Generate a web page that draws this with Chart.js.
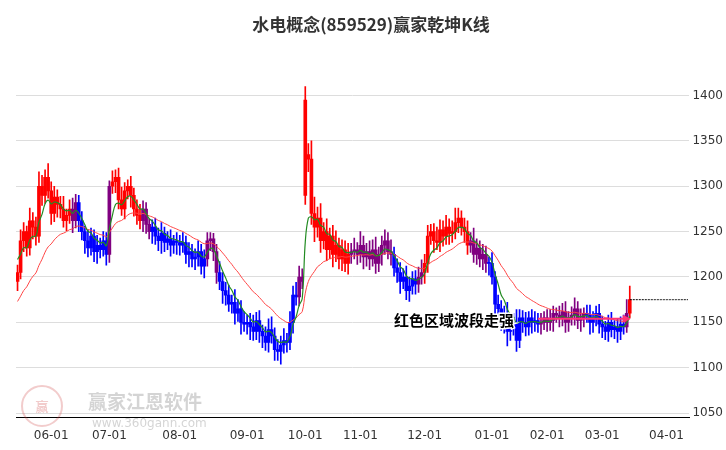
<!DOCTYPE html>
<html><head><meta charset="utf-8">
<script src="https://cdn.jsdelivr.net/npm/chart.js@4.4.1/dist/chart.umd.min.js"></script>
<style>
html,body{margin:0;padding:0;background:#fff;}
#wrap{width:726px;height:450px;position:relative;}
</style></head>
<body><div id="wrap"><canvas id="c" width="726" height="450"></canvas></div>
<script>
const title = '水电概念(859529)赢家乾坤K线';
const note = '红色区域波段走强';
// closes per trading day, 2024-05-17 .. 2025-03-14
const closes = [
  1205,1240,1250,1232,1262,1255,1245,1300,1290,1310,1295,
  1270,1288,1280,1275,1262,1268,1275,1262,1282,1262,1250,1240,1232,1245,1228,1235,1230,1240,1225,
  1300,1305,1310,1285,1275,1295,1300,1290,1275,1268,1262,1275,1258,1250,1255,1245,1240,1248,1238,1242,1235,1240,1238,
  1235,1238,1225,1228,1220,1222,1228,1212,1220,1240,1242,1228,1205,1195,1185,1180,1170,1172,1160,1165,1150,1148,
  1150,1145,1140,1152,1140,1135,1128,1142,1135,1120,1118,1125,1130,1128,1150,1180,1178,1200,1195,
  1395,1330,1270,1255,1265,1240,1250,1230,1245,1225,1235,1220,1230,1215,1225,1228,1230,1225,
  1235,1222,1228,1220,1230,1215,1225,1235,1240,1228,1225,1210,1205,1195,1200,1185,1190,1198,1192,1200,1205,
  1215,1245,1250,1240,1238,1252,1245,1255,1248,1250,1260,1265,1255,1250,1235,1240,1225,1232,1220,1225,1215,
  1215,1200,1170,1165,1150,1160,1140,1145,1150,1130,1155,1150,1145,1155,1150,1152,1148,1150,1155,
  1150,1152,1160,1158,1155,1162,1150,1155,1158,1165,1152,1155,1160,1158,1150,1155,1160,1148,
  1145,1140,1150,1142,1145,1140,1148,1145,1160,1175
];
const firstOpen = 1195;
const gapOpens = {94: 1290, 95: 1335};
const wickUp = [
  8,12,10,6,14,9,11,16,12,8, 15,10,12,8,9,14,7,10,12,9, 8,10,6,12,9,7,11,8,10,9,
  6,12,8,10,14,9,7,11,8,10, 12,9,7,6,8,10,9,12,7,8, 10,6,9,8,11,7,10,8,9,12,
  8,10,9,7,6,8,12,10,9,11, 8,14,10,9,12,8,10,13,9,11, 7,10,12,14,9,11,10,13,8,12,
  10,14,12,9,15,12,20,18,12,16, 10,14,9,12,16,8,11,10,12,9, 13,8,15,10,9,12,11,14,8,10,
  12,9,13,8,10,11,9,12,10,8, 9,11,14,10,12,8,9,15,11,10, 13,9,12,16,11,8,10,12,9,14,
  10,8,11,9,7,12,6,10,9,8, 12,7,10,14,9,8,11,7,9,10, 8,10,7,9,12,8,6,10,9,11,
  7,9,12,8,10,6,9,11,7,8, 10,9,6,8,11,7,9,8,10,15, 15
];
const wickDn = [
  10,7,12,9,8,13,10,7,11,9, 8,12,9,14,10,7,11,9,13,8, 12,9,14,10,8,11,13,9,7,12,
  9,8,12,10,7,11,9,13,8,10, 9,12,10,8,13,9,11,14,10,8, 12,9,13,11,8,10,14,9,12,10,
  9,13,8,11,10,12,9,14,11,8, 10,12,9,13,8,11,14,10,9,12, 13,9,11,8,12,10,14,9,11,8,
  12,9,10,8,10,14,12,16,11,13, 9,12,10,14,8,11,13,9,12,10, 8,11,9,13,10,12,8,11,9,12,
  10,8,12,9,11,13,8,10,12,9, 11,9,8,12,10,9,13,8,10,11, 9,12,10,8,11,9,12,10,8,9,
  11,9,12,10,13,8,11,14,9,12, 16,10,9,12,8,11,10,9,12,10, 9,11,8,10,9,12,8,10,9,11,
  10,8,11,9,12,10,8,13,11,9, 10,12,9,11,8,10,12,9,8,6, 5
];
// trend state: r strong, b weak, p neutral
const stateRuns = [['r',18],['p',2],['b',10],['p',1],['r',10],['p',3],['b',18],['p',4],['b',26],['p',2],
  ['r',15],['p',14],['b',8],['p',2],['r',15],['p',6],['b',17],['p',15],['b',13],['p',1],['r',1]];
const stateColors = {r:'#ff0000', b:'#0000ff', p:'#800080'};
const holidays = ['2024-06-10','2024-09-16','2024-09-17','2024-10-01','2024-10-02','2024-10-03','2024-10-04','2024-10-07',
  '2025-01-01','2025-01-28','2025-01-29','2025-01-30','2025-01-31','2025-02-03','2025-02-04'];
const futureSlots = 19;
const yTicks = [1050,1100,1150,1200,1250,1300,1350,1400];

// dates
const dates = [];
let d = new Date(Date.UTC(2024,4,17));
while (dates.length < closes.length + futureSlots) {
  const s = d.toISOString().slice(0,10);
  const wd = d.getUTCDay();
  if (wd !== 0 && wd !== 6 && !holidays.includes(s)) dates.push(s);
  d.setUTCDate(d.getUTCDate()+1);
}
const states = stateRuns.map(([c,n]) => c.repeat(n)).join('');
const opens = closes.map((c,i) => gapOpens[i] !== undefined ? gapOpens[i] : (i === 0 ? firstOpen : closes[i-1]));
const bodies = closes.map((c,i) => [opens[i], c]);
const wicks = closes.map((c,i) => [Math.min(opens[i],c) - wickDn[i], Math.max(opens[i],c) + wickUp[i]]);
const cols = closes.map((c,i) => stateColors[states[i]]);
function ema(arr, n, seed){ const k = 2/(n+1); let v = seed; return arr.map(x => (v = v + k*(x - v))); }
const fast = ema(closes, 6, 1225);
const slow = ema(closes, 22, 1170);
const last = closes[closes.length-1];
const lastLine = dates.map((_,i) => i >= closes.length - 1 ? last : null);

const extras = {
  id:'extras',
  afterDatasetsDraw(chart){
    const {ctx, scales:{x,y}} = chart;
    ctx.save();
    ctx.strokeStyle = '#ff3377'; ctx.fillStyle = '#ff3377'; ctx.lineWidth = 2;
    const y0 = y.getPixelForValue(1154), xa = x.getPixelForValue(170), xb = x.getPixelForValue(199);
    ctx.beginPath(); ctx.moveTo(xa,y0); ctx.lineTo(xb,y0); ctx.stroke();
    ctx.beginPath(); ctx.moveTo(xb+4,y0); ctx.lineTo(xb-4,y0-4); ctx.lineTo(xb-4,y0+4); ctx.fill();
    ctx.font = 'bold 15px "Noto Sans CJK SC"';
    ctx.textBaseline = 'middle';
    ctx.lineWidth = 3; ctx.strokeStyle = '#fff';
    const tx = x.getPixelForValue(123), ty = y.getPixelForValue(1152);
    ctx.strokeText(note, tx, ty);
    ctx.fillStyle = '#000'; ctx.fillText(note, tx, ty);
    // watermark
    ctx.globalAlpha = 0.25;
    ctx.strokeStyle = '#c33'; ctx.lineWidth = 2;
    ctx.beginPath(); ctx.arc(42, 406, 20, 0, Math.PI*2); ctx.stroke();
    ctx.fillStyle = '#c33'; ctx.font = 'bold 13px "Noto Sans CJK SC"'; ctx.textAlign = 'center';
    ctx.fillText('赢', 42, 406);
    ctx.textAlign = 'left'; ctx.fillStyle = '#555';
    ctx.font = 'bold 19px "Noto Sans CJK SC"'; ctx.fillText('赢家江恩软件', 88, 402);
    ctx.font = '12px "DejaVu Sans"'; ctx.fillText('www.360gann.com', 92, 424);
    ctx.restore();
  }
};

new Chart(document.getElementById('c'), {
  data: {
    labels: dates,
    datasets: [
      {type:'bar', data: wicks, backgroundColor: cols, barThickness: 1, grouped:false, order:3},
      {type:'bar', data: bodies, backgroundColor: cols, barThickness: 3, grouped:false, order:2, minBarLength:1},
      {type:'line', data: fast, borderColor:'#228b22', borderWidth:1.2, pointRadius:0, tension:0.4, order:1},
      {type:'line', data: slow, borderColor:'#ff4444', borderWidth:1, pointRadius:0, tension:0.4, order:1},
      {type:'line', data: lastLine, borderColor:'#000', borderWidth:1, borderDash:[2,1], pointRadius:0, order:1}
    ]
  },
  options: {
    responsive:false, animation:false,
    layout:{padding:{left:16, right:0, top:10, bottom:4}},
    plugins:{
      legend:{display:false}, tooltip:{enabled:false},
      title:{display:true, text:title, color:'#333', font:{size:17, weight:'bold', family:'"Noto Sans CJK SC"'}, padding:{top:4,bottom:14}}
    },
    scales:{
      x:{
        grid:{display:false},
        border:{color:'#000'},
        ticks:{autoSkip:false, maxRotation:0, color:'#333', font:{size:12, family:'"DejaVu Sans"'},
          callback(v,i){ const s = dates[i]; if(!s) return null; const p = dates[i-1];
            return (i>0 && p.slice(5,7) !== s.slice(5,7)) ? s.slice(5,7)+'-01' : null; }}
      },
      y:{
        position:'right', min:1045, max:1452,
        grid:{color:'#dddddd', drawTicks:false},
        border:{display:false},
        afterBuildTicks(ax){ ax.ticks = yTicks.map(v=>({value:v})); },
        ticks:{color:'#333', padding:3, font:{size:12, family:'"DejaVu Sans"'}, callback: v => String(v)}
      }
    }
  },
  plugins:[extras]
});
</script></body></html>
